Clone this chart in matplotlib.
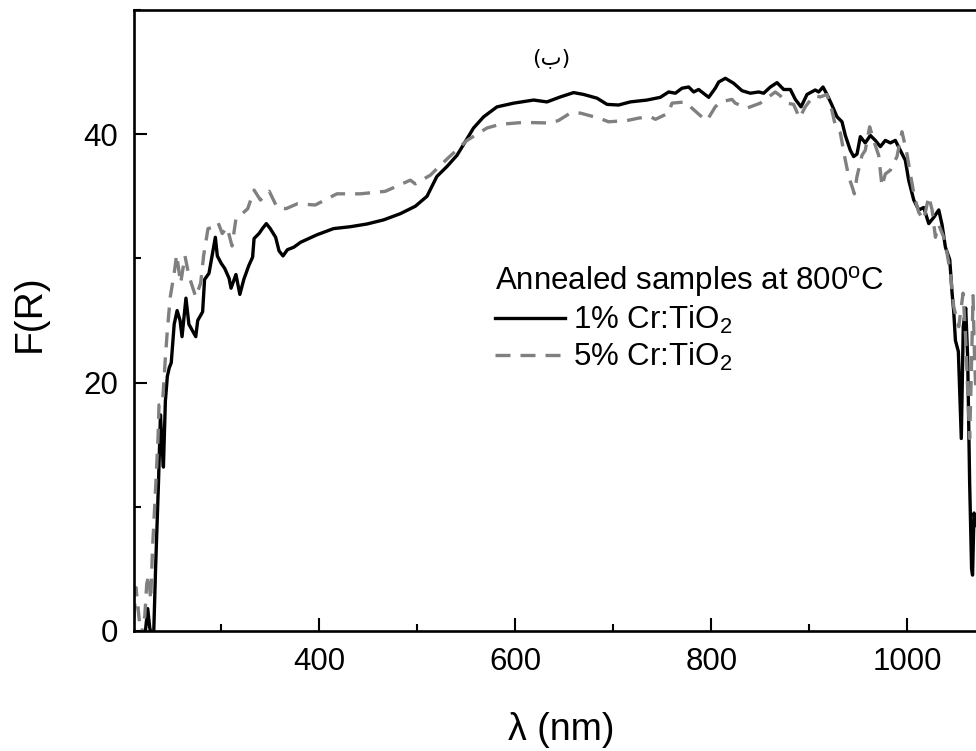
import matplotlib
matplotlib.use("Agg")
import matplotlib.pyplot as plt
from matplotlib.ticker import MultipleLocator, AutoMinorLocator

plt.rcParams["font.family"] = ["Liberation Sans", "DejaVu Sans"]
plt.rcParams["mathtext.fontset"] = "custom"
plt.rcParams["mathtext.rm"] = "Liberation Sans"
plt.rcParams["mathtext.it"] = "Liberation Sans:italic"

# 1% Cr:TiO2 (solid black)
lam1 = [222, 225, 227, 229, 231, 233, 236, 238, 239.5, 241, 243, 245, 247, 249,
        252, 255, 258, 260, 264, 267, 270.5, 274, 276, 281, 283, 287.5, 290, 294,
        296, 300, 303.5, 308, 310, 315, 319, 323, 328, 332, 333.5, 338.5, 342,
        346, 350, 355.5, 359, 363, 367.5, 374, 381, 397.6, 414.6, 431.6, 448.7,
        465.6, 482.7, 498, 509.9, 520, 530.3, 540.5, 549, 557.4, 567.7, 581.3,
        598.3, 618.7, 632.3, 645.9, 659.5, 669.7, 683.4, 693.6, 705.4, 717.3,
        734.4, 748, 756.4, 763.3, 770, 776.9, 782, 787, 797.3, 804, 807.5, 814.3,
        822.8, 831.3, 839.8, 848.3, 853.4, 860.2, 867, 873.8, 880.6, 885.7,
        891.5, 897.6, 906, 909.5, 913.9, 918, 923, 928.2, 933.3, 936.7, 941.8,
        945.2, 948.6, 952, 957, 962.2, 967.3, 972.4, 977.5, 982.6, 987.7, 992.8,
        997.9, 1001.3, 1006.5, 1011.6, 1016.7, 1021.8, 1026.9, 1032, 1035.4,
        1038.8, 1043.2, 1045.6, 1047.3, 1049, 1052, 1055, 1057, 1059.5, 1061.5,
        1063.5, 1065.5, 1066.5, 1068, 1070]
f1 = [-0.5, 1.8, 0.3, -0.5, -0.5, 5.0, 12.0, 17.4, 15.0, 13.2, 18.5, 20.5, 21.2,
      21.6, 24.7, 25.8, 25.0, 23.7, 26.8, 24.7, 24.2, 23.7, 25.0, 25.7, 28.3,
      28.8, 29.9, 31.7, 30.2, 29.6, 29.2, 28.4, 27.6, 28.7, 27.1, 28.3, 29.4,
      30.1, 31.6, 32.0, 32.4, 32.8, 32.4, 31.7, 30.6, 30.2, 30.7, 30.9, 31.3,
      31.9, 32.4, 32.55, 32.77, 33.1, 33.6, 34.2, 35.0, 36.6, 37.4, 38.3, 39.4,
      40.5, 41.4, 42.2, 42.5, 42.75, 42.6, 43.0, 43.35, 43.2, 42.9, 42.4, 42.35,
      42.6, 42.75, 42.97, 43.4, 43.3, 43.7, 43.8, 43.4, 43.6, 42.97, 43.7, 44.2,
      44.5, 44.1, 43.5, 43.3, 43.4, 43.3, 43.8, 44.15, 43.6, 43.6, 42.8, 42.2,
      43.2, 43.56, 43.4, 43.8, 43.2, 42.35, 41.4, 41.0, 39.9, 38.7, 38.2, 38.4,
      39.8, 39.3, 39.9, 39.5, 39.0, 39.5, 39.3, 39.5, 38.7, 37.9, 36.3, 34.7,
      33.9, 34.1, 32.8, 33.3, 33.9, 32.7, 30.9, 29.9, 27.2, 25.7, 23.4, 22.5,
      15.5, 24.5, 26.0, 22.0, 12.0, 5.0, 4.5, 9.5, 8.5]

# 5% Cr:TiO2 (dashed grey)
lam5 = [211, 213, 215, 218, 222, 224, 226, 228, 230, 233, 235.5, 236.5, 240, 243,
        245, 248, 252, 254.5, 258.6, 263, 267, 274, 279, 282, 286.5, 291.6,
        296.7, 301, 306, 311, 315, 320, 327, 333.5, 340, 349, 357, 366, 377.7,
        395.9, 418, 441.8, 467.3, 492.9, 498, 513.3, 530.3, 550.7, 571.1, 584.7,
        608.5, 635.6, 644, 656.1, 666.3, 685, 695.2, 714, 726, 737.9, 743, 756.4,
        759.8, 773.4, 780.2, 788.7, 795.5, 804, 809.1, 821, 824.4, 836.3, 849.9,
        858.4, 865.2, 870.3, 877.1, 883.9, 890, 895.8, 904.4, 911.2, 918, 923,
        926.5, 931.6, 936.7, 940.1, 943.5, 945.9, 948.6, 953.7, 957, 961.5,
        965.6, 970.7, 974.1, 977.5, 982.6, 989.4, 994.5, 999.6, 1003, 1007.1,
        1011.6, 1016.7, 1021.8, 1025.2, 1028.6, 1032, 1037.1, 1040.5, 1043.9,
        1047.3, 1052.4, 1056.8, 1059.2, 1061.5, 1063.5, 1065, 1067, 1068.5, 1070]
f5 = [1.0, 3.5, 2.0, -0.5, 1.2, 3.8, 4.5, 2.5, 6.8, 11.4, 15.5, 18.2, 18.2, 22.0,
      24.2, 26.9, 28.8, 30.3, 28.0, 30.2, 28.6, 26.9, 28.0, 30.2, 32.4, 32.5,
      32.9, 32.0, 32.5, 31.0, 33.2, 33.5, 34.0, 35.5, 34.7, 35.4, 34.1, 34.0,
      34.4, 34.3, 35.2, 35.2, 35.4, 36.3, 36.0, 36.7, 38.0, 39.5, 40.5, 40.8,
      40.95, 40.9, 41.1, 41.7, 41.7, 41.3, 41.0, 41.1, 41.3, 41.4, 41.2, 41.7,
      42.5, 42.6, 42.1, 41.5, 41.1, 42.2, 42.6, 42.8, 42.5, 42.1, 42.5, 43.0,
      43.4, 43.1, 42.5, 42.4, 41.3, 42.2, 43.1, 43.0, 43.2, 41.9, 40.7, 40.1,
      37.9, 36.6, 35.8, 35.2, 36.6, 38.3, 38.7, 40.6, 39.5, 38.3, 35.8, 36.8,
      37.1, 38.2, 40.2, 38.4, 36.8, 35.0, 33.7, 33.1, 35.0, 33.9, 31.7, 32.7,
      31.7, 30.4, 28.8, 26.1, 24.5, 27.2, 24.0, 19.5, 15.5, 20.0, 27.0, 22.0,
      19.0]

fig = plt.figure(figsize=(9.76, 7.51), dpi=100)
ax = fig.add_axes([134 / 976, 120 / 751, 842 / 976, 621 / 751])

ax.plot(lam1, f1, color="black", lw=2.4, label="1% Cr:TiO$_\\mathrm{2}$")
ax.plot(lam5, f5, color="#808080", lw=2.4, dashes=(4.5, 3.0),
        label="5% Cr:TiO$_\\mathrm{2}$")

ax.set_xlim(211, 1070)
ax.set_ylim(0, 50)

ax.xaxis.set_major_locator(MultipleLocator(200))
ax.xaxis.set_minor_locator(AutoMinorLocator(2))
ax.yaxis.set_major_locator(MultipleLocator(20))
ax.yaxis.set_minor_locator(AutoMinorLocator(2))
ax.tick_params(which="both", direction="in", width=1.5, labelsize=22.5, pad=11.5)
ax.tick_params(which="major", length=9.4)
ax.tick_params(which="minor", length=5)

for s in ["left", "bottom", "top"]:
    ax.spines[s].set_linewidth(1.9)
ax.spines["right"].set_visible(False)

ax.set_xlabel("λ (nm)", fontsize=27)
ax.set_ylabel("F(R)", fontsize=28)
ax.xaxis.set_label_coords(0.508, -0.130)
ax.yaxis.set_label_coords(-0.102, 0.512)

ax.text(0.496, 0.923, "(ب)", transform=ax.transAxes, ha="center", va="center",
        fontsize=16, family=["DejaVu Sans"])

leg = ax.legend(loc="upper left", bbox_to_anchor=(495 / 976, (751 - 264) / 751),
                bbox_transform=fig.transFigure, frameon=False, fontsize=22.5,
                title="Annealed samples at 800$^\\mathrm{o}$C",
                title_fontsize=22.5, alignment="left", borderpad=0,
                borderaxespad=0, handlelength=2.25, handletextpad=0.26,
                labelspacing=0.15)

fig.savefig("out.png", dpi=100)
